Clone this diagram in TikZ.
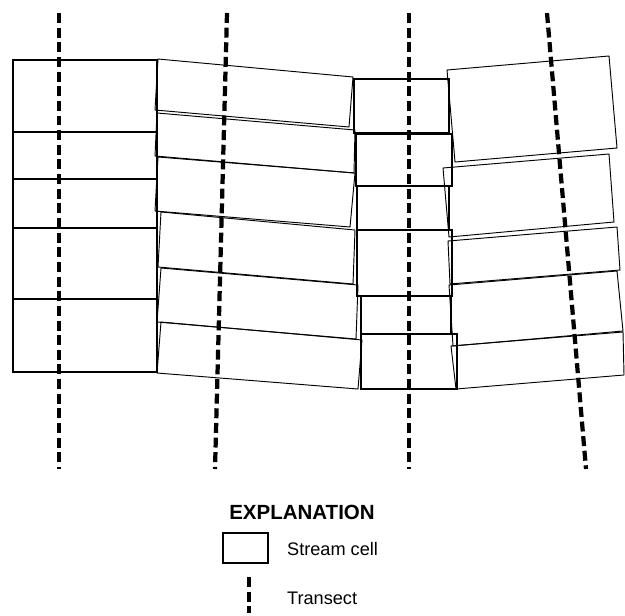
\documentclass[tikz,border=0pt]{standalone}
\usepackage{fontspec}
\setmainfont{Liberation Sans}
\usepackage{tikz}
\usetikzlibrary{positioning}

\begin{document}
\begin{tikzpicture}[
      x=0.03cm, y=-0.03cm,
      fixedcell/.style={draw, line width=1.7pt},
      shiftcell/.style={draw, line width=0.8pt, line join=miter},
      transect/.style={line width=3.6pt, dash pattern=on 8.5pt off 4pt},
      title/.style={font=\fontsize{17.5}{20}\selectfont\bfseries},
      legendtext/.style={font=\fontsize{15.5}{18}\selectfont, anchor=west}
    ]
      \useasboundingbox (0,0) rectangle (625,615);

      % Column 1: regular cells
      \draw[fixedcell] (13,60) rectangle (157,132);
      \draw[fixedcell] (13,132) rectangle (157,179);
      \draw[fixedcell] (13,179) rectangle (157,228);
      \draw[fixedcell] (13,228) rectangle (157,299);
      \draw[fixedcell] (13,299) rectangle (157,372);

      % Column 2: shifted cells
      \draw[shiftcell] (158,59) -- (353,77) -- (349,127) -- (155,110) -- cycle;
      \draw[shiftcell] (157,113) -- (355,130) -- (354,173) -- (155,156) -- cycle;
      \draw[shiftcell] (158,157) -- (355,173) -- (350,227) -- (155,211) -- cycle;
      \draw[shiftcell] (161,212) -- (355,230) -- (353,284) -- (158,267) -- cycle;
      \draw[shiftcell] (161,268) -- (358,285) -- (356,339) -- (157,322) -- cycle;
      \draw[shiftcell] (161,322) -- (362,340) -- (358,389) -- (157,373) -- cycle;

      % Column 3: regular cells
      \draw[fixedcell] (354,79) rectangle (449,133);
      \draw[fixedcell] (356,134) rectangle (452,186);
      \draw[fixedcell] (357,186) rectangle (449,230);
      \draw[fixedcell] (357,230) rectangle (452,296);
      \draw[fixedcell] (361,296) rectangle (451,334);
      \draw[fixedcell] (361,334) rectangle (457,389);

      % Column 4: shifted cells
      \draw[shiftcell] (447,70) -- (609,56) -- (617,148) -- (455,162) -- cycle;
      \draw[shiftcell] (443,168) -- (609,154) -- (614,222) -- (449,237) -- cycle;
      \draw[shiftcell] (448,241) -- (617,227) -- (620,270) -- (450,284) -- cycle;
      \draw[shiftcell] (449,285) -- (617,271) -- (623,331) -- (453,346) -- cycle;
      \draw[shiftcell] (451,346) -- (623,332) -- (624,375) -- (456,389) -- cycle;

      % Transects
      \coordinate (t1top) at (59,13);   \coordinate (t1bot) at (59,469);
      \coordinate (t2top) at (227,13);  \coordinate (t2bot) at (215,469);
      \coordinate (t3top) at (409,13);  \coordinate (t3bot) at (409,469);
      \coordinate (t4top) at (547,13);  \coordinate (t4bot) at (586,469);
      \draw[transect] (t1top) -- (t1bot);
      \draw[transect] (t2top) -- (t2bot);
      \draw[transect] (t3top) -- (t3bot);
      \draw[transect] (t4top) -- (t4bot);

      % Legend
      \node[title] (explanation) at (302,512) {EXPLANATION};
      \draw[fixedcell, line width=1.5pt] (223,533) rectangle (268,563);
      \node[legendtext] (cellkey) at (283,549) {Stream cell};
      \coordinate (keytop) at (249,577);
      \coordinate (keybot) at (249,613);
      \draw[transect] (keytop) -- (keybot);
      \node[legendtext] (transectkey) at (283,598) {Transect};
    \end{tikzpicture}
\end{document}
